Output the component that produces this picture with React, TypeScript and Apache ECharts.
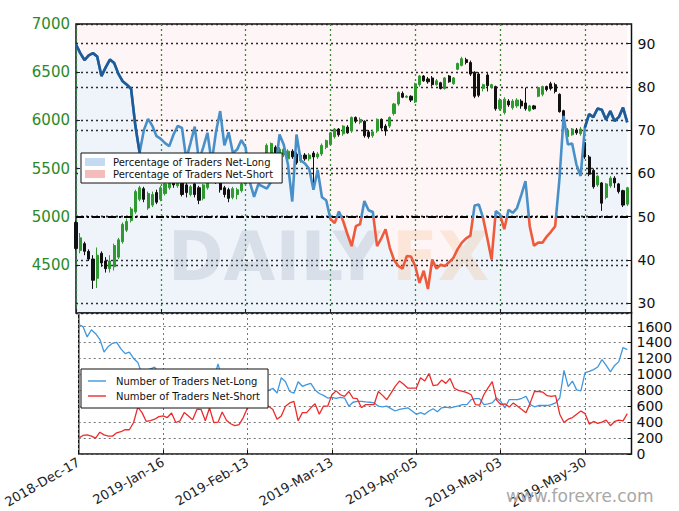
import React, { useEffect, useRef } from 'react';
import * as echarts from 'echarts';

const tickLabels = ['2018-Dec-17', '2019-Jan-16', '2019-Feb-13', '2019-Mar-13', '2019-Apr-05', '2019-May-03', '2019-May-30'];
const darkRanges = [[0, 15], [120, 130]];
const CATEGORY_COUNT = 132;

// Percentage of traders net-long (right axis, top panel)
const pctLong = [
  89.8, 87.8, 86.2, 87.3, 87.8, 87, 82.5, 84.5, 86.3, 85.5,
  83, 81.3, 80.5, 79.5, 71, 64.8, 70, 72.6, 71, 68.6,
  68, 67, 66.3, 69, 71, 70.5, 63.3, 67, 70.8, 62.9,
  66, 69.4, 62.5, 69.5, 74.4, 66.5, 69.5, 64.7, 65.5, 67.7,
  66, 58, 54.6, 57.5, 57, 56.5, 58, 61, 69, 66.6,
  62, 53.5, 69, 63, 62.3, 61, 56.2, 60.8, 54.5, 53.8,
  49.5, 48.5, 51.2, 49, 46, 43.2, 47.8, 48.3, 53.6, 51.5,
  51.1, 43.2, 45, 47.1, 42.8, 40, 38.6, 38, 40.9, 40.8,
  38.6, 34.7, 37.5, 33.3, 40.1, 38, 38.9, 38.6, 39.5, 40.5,
  42.5, 44, 45, 45.6, 52.6, 52.8, 49.7, 45, 40.1, 51.3,
  50.5, 47.1, 51.6, 50.9, 52, 55, 58.2, 47.8, 43.3, 44,
  44, 45.4, 46.5, 47.8, 58.6, 73.3, 66.7, 66.9, 62.1, 59.4,
  70.6, 73.7, 73, 75, 74.7, 72.4, 74.4, 72.1, 73, 75.2,
  71.8,
];

// Price candles: [open, close, low, high]
const candles = [
  [4940, 4670, 4650, 4960], [4650, 4780, 4620, 4830], [4720, 4640, 4600, 4740], [4640, 4560, 4540, 4660],
  [4560, 4340, 4250, 4600], [4360, 4600, 4260, 4680], [4620, 4520, 4480, 4640], [4540, 4460, 4420, 4580],
  [4460, 4540, 4420, 4600], [4480, 4700, 4440, 4720], [4580, 4760, 4560, 4780], [4740, 4920, 4720, 4940],
  [4860, 4950, 4840, 4980], [4960, 5080, 4940, 5100], [5050, 5260, 5030, 5280], [5180, 5300, 5160, 5320],
  [5290, 5180, 5150, 5310], [5090, 5240, 5070, 5260], [5120, 5230, 5100, 5260], [5250, 5150, 5130, 5280],
  [5180, 5300, 5160, 5320], [5240, 5340, 5220, 5360], [5300, 5380, 5280, 5400], [5390, 5330, 5300, 5410],
  [5320, 5400, 5300, 5420], [5350, 5230, 5210, 5370], [5330, 5250, 5200, 5350], [5230, 5310, 5210, 5330],
  [5340, 5230, 5200, 5360], [5300, 5170, 5130, 5320], [5190, 5330, 5170, 5340], [5300, 5400, 5280, 5420],
  [5380, 5450, 5350, 5470], [5440, 5360, 5340, 5460], [5360, 5280, 5250, 5380], [5300, 5230, 5200, 5320],
  [5280, 5190, 5150, 5300], [5200, 5290, 5180, 5310], [5230, 5280, 5180, 5300], [5270, 5340, 5250, 5360],
  [5340, 5420, 5320, 5440], [5420, 5480, 5400, 5500], [5520, 5470, 5450, 5540], [5480, 5580, 5460, 5600],
  [5580, 5620, 5560, 5640], [5630, 5740, 5620, 5760], [5650, 5760, 5630, 5770], [5720, 5660, 5640, 5740],
  [5620, 5700, 5600, 5720], [5640, 5700, 5620, 5720], [5600, 5680, 5580, 5700], [5680, 5620, 5600, 5700],
  [5650, 5560, 5540, 5670], [5580, 5640, 5560, 5660], [5640, 5600, 5580, 5660], [5600, 5640, 5580, 5660],
  [5660, 5620, 5350, 5680], [5620, 5650, 5600, 5670], [5650, 5740, 5630, 5760], [5720, 5790, 5700, 5800],
  [5750, 5870, 5740, 5880], [5830, 5910, 5810, 5920], [5910, 5850, 5830, 5920], [5860, 5940, 5840, 5950],
  [5930, 5870, 5860, 5950], [5890, 6030, 5870, 6040], [6030, 5990, 5970, 6040], [5980, 6010, 5960, 6030],
  [5990, 5840, 5820, 6000], [5880, 5830, 5810, 5900], [5840, 5880, 5820, 5900], [5890, 6010, 5870, 6020],
  [6010, 5920, 5900, 6020], [5940, 5890, 5840, 5960], [5940, 6030, 5920, 6040], [6070, 6170, 6050, 6180],
  [6170, 6290, 6150, 6300], [6280, 6240, 6230, 6300], [6240, 6250, 6230, 6260], [6250, 6210, 6190, 6260],
  [6190, 6380, 6180, 6390], [6370, 6460, 6350, 6470], [6460, 6410, 6400, 6470], [6430, 6400, 6380, 6450],
  [6440, 6370, 6350, 6460], [6370, 6410, 6360, 6430], [6390, 6330, 6320, 6400], [6330, 6440, 6320, 6450],
  [6460, 6400, 6390, 6470], [6380, 6440, 6370, 6450], [6530, 6590, 6520, 6600], [6570, 6640, 6560, 6660],
  [6630, 6600, 6580, 6650], [6600, 6480, 6460, 6620], [6500, 6250, 6230, 6510], [6480, 6260, 6240, 6500],
  [6330, 6370, 6300, 6380], [6470, 6360, 6300, 6490], [6340, 6370, 6330, 6380], [6350, 6120, 6100, 6360],
  [6120, 6210, 6100, 6230], [6080, 6220, 6060, 6240], [6200, 6160, 6140, 6220], [6130, 6200, 6110, 6220],
  [6150, 6210, 6130, 6230], [6200, 6150, 6120, 6220], [6180, 6120, 6100, 6340], [6100, 6150, 6090, 6160],
  [6150, 6120, 6110, 6160], [6250, 6340, 6240, 6350], [6270, 6350, 6250, 6360], [6350, 6320, 6300, 6360],
  [6380, 6330, 6310, 6400], [6370, 6300, 6280, 6390], [6270, 6090, 6080, 6280], [6100, 5950, 5930, 6110],
  [5830, 5900, 5810, 5920], [5850, 5910, 5840, 5920], [5900, 5870, 5850, 5920], [5860, 5910, 5840, 5930],
  [5770, 5620, 5600, 5780], [5620, 5440, 5420, 5640], [5480, 5310, 5290, 5500], [5330, 5420, 5310, 5430],
  [5350, 5140, 5060, 5360], [5200, 5340, 5180, 5350], [5320, 5400, 5300, 5420], [5400, 5350, 5300, 5420],
  [5340, 5260, 5240, 5350], [5270, 5120, 5100, 5280], [5130, 5300, 5110, 5310],
];

// Number of traders (bottom panel)
const netLong = [
  1623, 1600, 1470, 1560, 1510, 1440, 1280, 1350, 1390, 1400,
  1320, 1260, 1280, 1200, 1150, 1000, 1050, 1070, 1090, 1000,
  980, 960, 940, 990, 960, 920, 900, 960, 1000, 900,
  950, 990, 930, 1130, 950, 880, 760, 630, 720, 800,
  790, 760, 750, 790, 760, 800, 826, 764, 957, 908,
  785, 764, 908, 850, 870, 887, 805, 760, 736, 703,
  711, 700, 711, 703, 601, 650, 660, 662, 654, 650,
  642, 601, 593, 601, 570, 540, 560, 570, 580, 540,
  498, 519, 498, 540, 568, 531, 580, 589, 580, 593,
  605, 621, 621, 682, 695, 695, 621, 630, 642, 703,
  662, 580, 682, 682, 682, 700, 724, 621, 593, 609,
  609, 609, 620, 642, 703, 1050, 847, 916, 805, 793,
  1022, 1038, 1060, 1092, 1185, 1112, 1030, 1112, 1160, 1337,
  1310,
];
const netShort = [
  200, 233, 241, 225, 200, 274, 240, 225, 225, 266,
  280, 307, 305, 396, 589, 520, 409, 420, 437, 470,
  478, 458, 515, 396, 417, 520, 478, 429, 560, 560,
  417, 580, 396, 400, 527, 425, 380, 356, 370, 458,
  580, 597, 605, 609, 605, 601, 560, 437, 478, 600,
  642, 662, 417, 520, 520, 580, 630, 500, 601, 601,
  744, 793, 744, 724, 785, 703, 695, 580, 621, 621,
  621, 785, 736, 682, 764, 850, 916, 875, 826, 826,
  826, 957, 916, 1010, 858, 867, 928, 887, 949, 826,
  800, 785, 770, 744, 621, 613, 744, 830, 908, 680,
  621, 630, 589, 642, 600, 560, 519, 642, 785, 785,
  776, 732, 724, 732, 500, 396, 437, 458, 500, 540,
  507, 376, 409, 384, 400, 425, 356, 409, 425, 417,
  507,
];

const FONT = '"DejaVu Sans", Arial, sans-serif';
const categories = Array.from({ length: CATEGORY_COUNT }, (_, i) => String(i));
const pctDark = pctLong.map((v, i) => (darkRanges.some(([a, b]) => i >= a && i <= b) ? v : null));

const dotted = (color: string, width = 1.3) => ({ color, width, type: [2, 3] as number[] });
const plain = (v: number) => String(v);

const option: any = {
  animation: false,
  backgroundColor: '#ffffff',
  textStyle: { fontFamily: FONT },
  grid: [
    { left: 76, top: 24, width: 555.5, height: 289, show: true, borderColor: '#111', borderWidth: 1.5, backgroundColor: 'transparent' },
    { left: 76, top: 313, width: 555.5, height: 144, show: true, borderColor: '#111', borderWidth: 1.5, backgroundColor: 'transparent' },
    // helper grid that carries the right-hand percentage scale (30..90)
    { left: 76, top: 43.6, width: 555.5, height: 259.6, show: false },
  ],
  xAxis: [
    {
      type: 'category', gridIndex: 0, data: categories, boundaryGap: false,
      axisLine: { show: false },
      axisTick: { show: true, inside: true, interval: 19, length: 4, lineStyle: { color: '#111' } },
      axisLabel: { show: false },
      splitLine: { show: true, interval: 19, lineStyle: dotted('#2e8b2e', 1.3) },
    },
    {
      type: 'category', gridIndex: 1, data: categories, boundaryGap: false,
      axisLine: { show: false },
      axisTick: { show: true, inside: true, interval: 19, length: 4, lineStyle: { color: '#111' } },
      axisLabel: {
        interval: 19, rotate: 30, fontSize: 13, color: '#222', margin: 7, fontFamily: FONT,
        formatter: (v: string) => tickLabels[Number(v) / 20] ?? '',
      },
      splitLine: { show: true, interval: 19, lineStyle: dotted('#777', 1) },
    },
    {
      type: 'category', gridIndex: 2, data: categories, boundaryGap: false, show: false,
    },
  ],
  yAxis: [
    {
      type: 'value', gridIndex: 0, min: 4000, max: 7000, interval: 500, position: 'left',
      axisLine: { show: false },
      axisTick: { show: true, inside: true, length: 4, lineStyle: { color: '#111' } },
      axisLabel: { color: '#2a8a2a', fontSize: 15, margin: 6, showMinLabel: false, fontFamily: FONT, formatter: plain },
      splitLine: { show: true, lineStyle: dotted('#222', 1.3) },
    },
    {
      // hidden full-height percentage scale of the top panel
      type: 'value', gridIndex: 0, min: 27.74, max: 94.53, position: 'right', show: false,
      splitLine: { show: false },
    },
    {
      type: 'value', gridIndex: 1, min: 0, max: 1770, interval: 200, position: 'right',
      axisLine: { show: false },
      axisTick: { show: true, inside: true, length: 4, lineStyle: { color: '#111' } },
      axisLabel: { color: '#111', fontSize: 14, margin: 5, showMaxLabel: false, fontFamily: FONT, formatter: plain },
      splitLine: { show: true, lineStyle: dotted('#777', 1) },
    },
    {
      // visible percentage labels 30..90
      type: 'value', gridIndex: 2, min: 30, max: 90, interval: 10, position: 'right',
      axisLine: { show: false },
      axisTick: { show: true, inside: true, length: 4, lineStyle: { color: '#111' } },
      axisLabel: { color: '#111', fontSize: 14, margin: 6, fontFamily: FONT, formatter: plain },
      splitLine: { show: true, lineStyle: dotted('#222', 1.3) },
    },
  ],
  visualMap: [
    {
      type: 'piecewise', show: false, seriesIndex: 3, dimension: 1,
      pieces: [
        { gte: 0, lt: 50, color: '#ee5a3c' },
        { gte: 50, lte: 100, color: '#4a90c8' },
      ],
    },
  ],
  legend: [
    {
      data: [
        { name: 'Percentage of Traders Net-Long', icon: 'rect' },
        { name: 'Percentage of Traders Net-Short', icon: 'rect' },
      ],
      orient: 'vertical', left: 81, top: 153, selectedMode: false, z: 20,
      backgroundColor: '#fff', borderColor: '#111', borderWidth: 1, borderRadius: 0,
      padding: [4, 9, 4, 4], itemGap: 2, itemWidth: 20, itemHeight: 8,
      textStyle: { fontSize: 10, color: '#111', fontFamily: FONT, padding: [0, 0, 0, 3] },
    },
    {
      data: [
        { name: 'Number of Traders Net-Long', icon: 'rect' },
        { name: 'Number of Traders Net-Short', icon: 'rect' },
      ],
      orient: 'vertical', left: 81, top: 369, selectedMode: false, z: 20,
      backgroundColor: '#fff', borderColor: '#111', borderWidth: 1, borderRadius: 0,
      padding: [6, 8, 6, 7], itemGap: 3, itemWidth: 18, itemHeight: 1.4,
      textStyle: { fontSize: 10, color: '#111', fontFamily: FONT, padding: [0, 0, 0, 5], lineHeight: 12 },
    },
  ],
  graphic: [
    {
      type: 'text', x: 168, y: 257, z: 2, silent: true,
      style: { text: 'DAILY', font: 'bold 67px "DejaVu Sans"', fill: 'rgba(150,160,175,0.24)', verticalAlign: 'middle' },
    },
    {
      type: 'text', x: 392, y: 257, z: 2, silent: true,
      style: { text: 'FX', font: 'bold 67px "DejaVu Sans"', fill: 'rgba(240,150,70,0.16)', verticalAlign: 'middle' },
    },
    {
      type: 'text', x: 506, y: 496, z: 50, silent: true,
      style: { text: 'www.forexre.com', font: '17px "DejaVu Sans"', fill: '#a8a8a8', verticalAlign: 'middle' },
    },
  ],
  series: [
    {
      name: 'Percentage of Traders Net-Long', type: 'line', xAxisIndex: 0, yAxisIndex: 1,
      data: pctLong, symbol: 'none', z: 1, silent: true,
      lineStyle: { width: 0, opacity: 0 },
      itemStyle: { color: '#c4daf3' },
      areaStyle: { color: 'rgba(110,160,215,0.17)', origin: 'start' },
    },
    {
      name: 'Percentage of Traders Net-Short', type: 'line', xAxisIndex: 0, yAxisIndex: 1,
      data: pctLong, symbol: 'none', z: 1, silent: true,
      lineStyle: { width: 0, opacity: 0 },
      itemStyle: { color: '#f5bcbc' },
      areaStyle: { color: 'rgba(240,110,110,0.09)', origin: 'end' },
    },
    {
      type: 'candlestick', xAxisIndex: 0, yAxisIndex: 0, data: candles, z: 3, silent: true,
      barWidth: 2.6,
      itemStyle: { color: '#2f9a2f', color0: '#111', borderColor: '#2f9a2f', borderColor0: '#111', borderWidth: 1 },
    },
    {
      type: 'line', xAxisIndex: 0, yAxisIndex: 1, data: pctLong, symbol: 'none', z: 5, silent: true,
      lineStyle: { width: 2.6 },
    },
    {
      type: 'line', xAxisIndex: 0, yAxisIndex: 1, data: pctDark, symbol: 'none', z: 6, silent: true,
      connectNulls: false,
      lineStyle: { width: 2.6, color: '#1f5b98' },
      itemStyle: { color: '#1f5b98' },
      markLine: {
        silent: true, symbol: 'none', label: { show: false },
        lineStyle: { color: '#000', width: 2, type: [8, 3, 2, 3] },
        data: [{ yAxis: 50 }],
      },
    },
    {
      name: 'Number of Traders Net-Long', type: 'line', xAxisIndex: 1, yAxisIndex: 2,
      data: netLong, symbol: 'none', z: 4, silent: true,
      lineStyle: { width: 1.3, color: '#3f97df' }, itemStyle: { color: '#3f97df' },
    },
    {
      name: 'Number of Traders Net-Short', type: 'line', xAxisIndex: 1, yAxisIndex: 2,
      data: netShort, symbol: 'none', z: 4, silent: true,
      lineStyle: { width: 1.3, color: '#ee2b2b' }, itemStyle: { color: '#ee2b2b' },
    },
  ],
};

export default function App() {
  const ref = useRef<HTMLDivElement>(null);
  useEffect(() => {
    if (!ref.current) return;
    const chart = echarts.init(ref.current, null, { renderer: 'svg' });
    chart.setOption(option);
    return () => chart.dispose();
  }, []);
  return (
    <div
      ref={ref}
      style={{ position: 'fixed', left: 0, top: 0, width: 679, height: 511, background: '#fff' }}
    />
  );
}
